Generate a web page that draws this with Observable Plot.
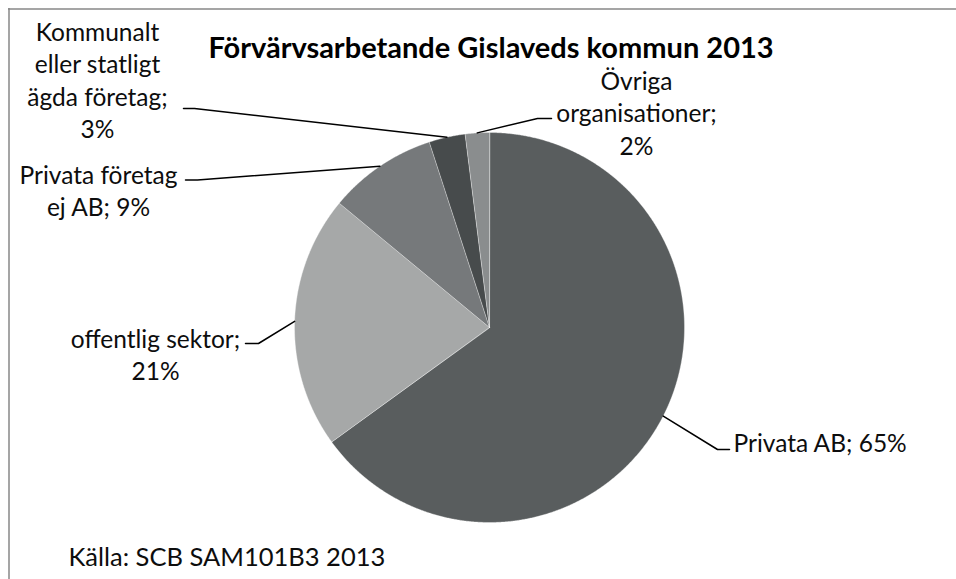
<!DOCTYPE html>
<html>
<head>
<meta charset="utf-8">
<script src="https://cdn.jsdelivr.net/npm/d3@7"></script>
<script src="https://cdn.jsdelivr.net/npm/@observablehq/plot@0.6"></script>
<style>
  html, body { margin: 0; padding: 0; background: #fff; }
  #chart svg { display: block; }
</style>
</head>
<body>
<div id="chart"></div>
<script>
// ---- data ----
const title = "Förvärvsarbetande Gislaveds kommun 2013";
const source = "Källa: SCB SAM101B3 2013";
const categories = ["Privata AB", "offentlig sektor", "Privata företag ej AB", "Kommunalt eller statligt ägda företag", "Övriga organisationer"];
const shares = [65, 21, 9, 3, 2];
const sliceColors = ["#595d5e", "#a6a8a8", "#76797b", "#474b4c", "#8a8d8e"];

// ---- layout ----
const W = 956, H = 579;
const cx = 489, cy = 327, R = 195;
const FS = 24.5, LH = 32.5;
const TFS = 29, SFS = 25.5;
const labelLayout = [
  {words: [3],          x: 733, base: 449,   anchor: "start",  bend: [717, 449],   end: [729, 449]},
  {words: [2, 1],       x: 155, base: 361,   anchor: "middle", bend: [258, 343],   end: [245, 343]},
  {words: [2, 3],       x: 98,  base: 196.7, anchor: "middle", bend: [197, 179.5], end: [185, 179.5]},
  {words: [1, 2, 2, 1], x: 97,  base: 86.25, anchor: "middle", bend: [194, 108],   end: [183, 108]},
  {words: [1, 1, 1],    x: 636, base: 119,   anchor: "middle", bend: [537, 118],   end: [551, 118]}
];

const arcs = d3.pie().sort(null).value(d => d)(shares);
const pt = (a, r) => [cx + r * Math.sin(a), cy - r * Math.cos(a)];

// slice polygons
const slicePts = [];
arcs.forEach((a, i) => {
  slicePts.push({k: i, x: cx, y: cy, c: sliceColors[i]});
  const n = Math.max(4, Math.ceil((a.endAngle - a.startAngle) / 0.005));
  for (let j = 0; j <= n; j++) {
    const ang = a.startAngle + (a.endAngle - a.startAngle) * j / n;
    const [x, y] = pt(ang, R);
    slicePts.push({k: i, x, y, c: sliceColors[i]});
  }
});

// labels
const labels = arcs.map((a, i) => {
  const words = `${categories[i]}; ${shares[i]}%`.split(" ");
  const lines = [];
  let p = 0;
  for (const n of labelLayout[i].words) { lines.push(words.slice(p, p + n).join(" ")); p += n; }
  return {text: lines.join("\n"), x: labelLayout[i].x, y: labelLayout[i].base - 0.32 * FS, anchor: labelLayout[i].anchor};
});

// leader lines
const leaderPts = [];
arcs.forEach((a, i) => {
  const mid = (a.startAngle + a.endAngle) / 2;
  const [x0, y0] = pt(mid, R);
  const L = labelLayout[i];
  leaderPts.push({k: i, x: x0, y: y0}, {k: i, x: L.bend[0], y: L.bend[1]}, {k: i, x: L.end[0], y: L.end[1]});
});

const chart = Plot.plot({
  width: W, height: H,
  margin: 0,
  x: {domain: [0, W], range: [0, W], axis: null},
  y: {domain: [0, H], range: [0, H], axis: null},
  color: {type: "identity"},
  style: {fontFamily: "Lato, 'Open Sans', sans-serif", background: "#fff"},
  marks: [
    Plot.ruleY([8.5], {x1: 8, x2: W, stroke: "#878787", strokeWidth: 1.5}),
    Plot.ruleX([8.5], {y1: 8, y2: H, stroke: "#878787", strokeWidth: 1.5}),
    Plot.line(slicePts, {x: "x", y: "y", z: "k", fill: "c", stroke: "#ffffff", strokeWidth: 0.6, strokeOpacity: 0.6, curve: "linear-closed"}),
    Plot.line(leaderPts, {x: "x", y: "y", z: "k", stroke: "#000", strokeWidth: 1.5}),
    Plot.text(labels.filter(d => d.anchor === "middle"), {x: "x", y: "y", text: "text", textAnchor: "middle", lineAnchor: "middle", lineHeight: LH / FS, fontSize: FS, fill: "#0d0d0d"}),
    Plot.text(labels.filter(d => d.anchor === "start"), {x: "x", y: "y", text: "text", textAnchor: "start", lineAnchor: "middle", lineHeight: LH / FS, fontSize: FS, fill: "#0d0d0d"}),
    Plot.text([title], {x: () => 490.5, y: () => 57 - 0.32 * TFS, text: d => d, textAnchor: "middle", lineAnchor: "middle", fontSize: TFS, fontWeight: "bold", fill: "#000"}),
    Plot.text([source], {x: () => 68, y: () => 565 - 0.32 * SFS, text: d => d, textAnchor: "start", lineAnchor: "middle", fontSize: SFS, fill: "#0d0d0d"})
  ]
});
document.getElementById("chart").appendChild(chart);
</script>
</body>
</html>
